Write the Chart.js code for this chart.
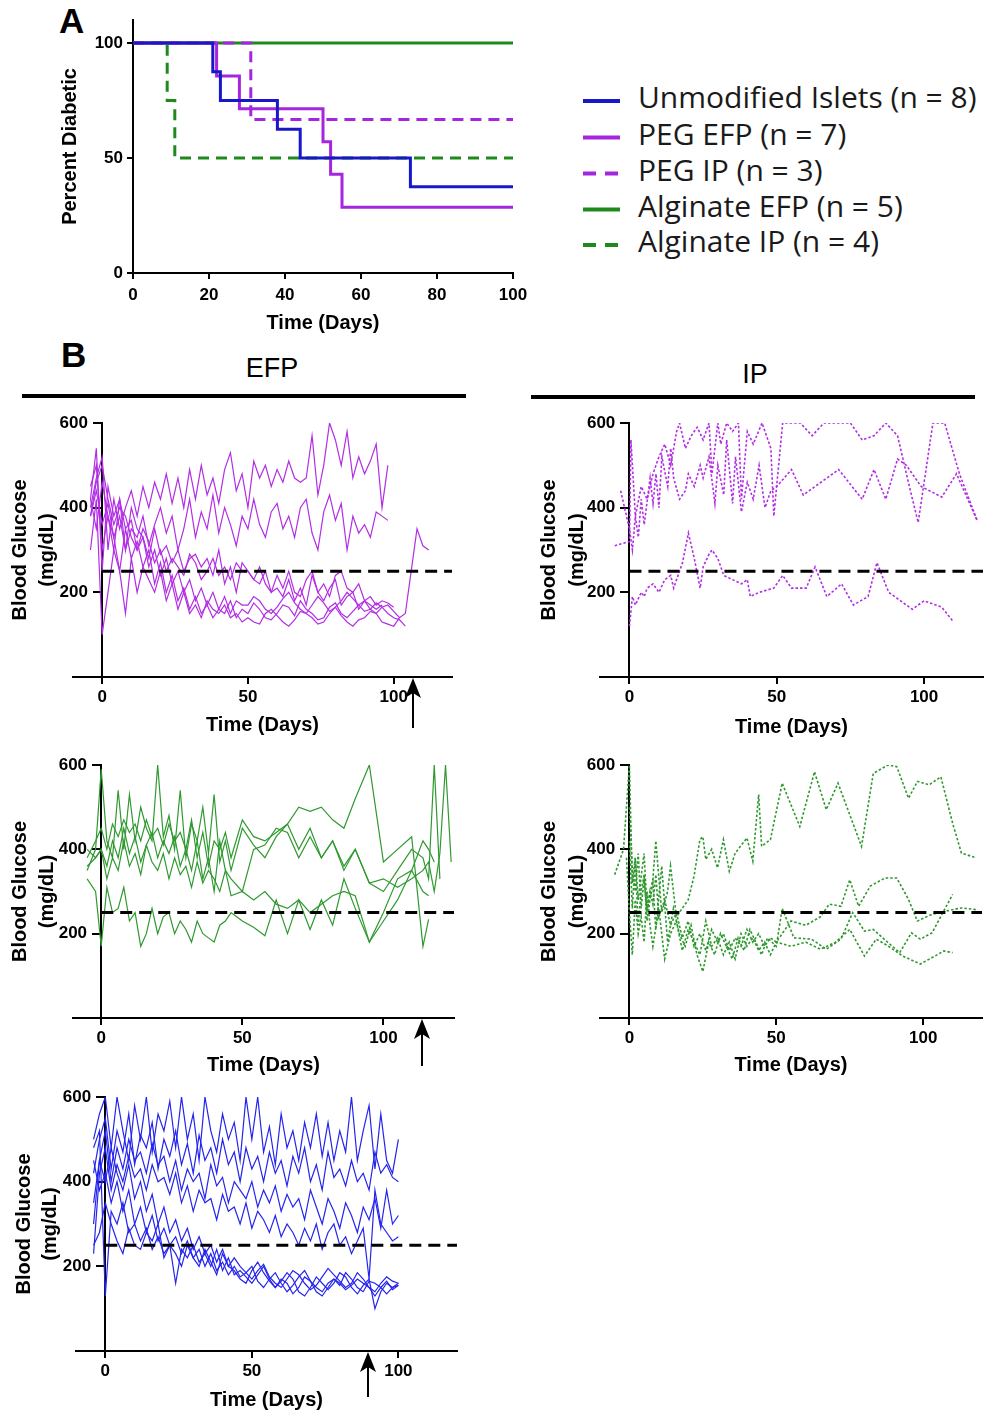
<!DOCTYPE html>
<html><head><meta charset="utf-8">
<script src="https://cdn.jsdelivr.net/npm/chart.js@4.4.1/dist/chart.umd.min.js"></script>
<style>
html,body{margin:0;padding:0;background:#fff;}
body{width:987px;height:1414px;position:relative;overflow:hidden;}
canvas{position:absolute;}
#ann{position:absolute;left:0;top:0;}
</style></head><body>
<svg id="ann" width="987" height="1414" xmlns="http://www.w3.org/2000/svg">
  <g font-family="'Liberation Sans', Arial, sans-serif" fill="#000">
    <text x="59" y="33" font-size="35" font-weight="bold">A</text>
    <text x="61" y="367" font-size="35" font-weight="bold">B</text>
    <text x="272" y="377" font-size="27" text-anchor="middle">EFP</text>
    <text x="755" y="383" font-size="27" text-anchor="middle">IP</text>
  </g>
  <line x1="22" y1="396" x2="466" y2="396" stroke="#000" stroke-width="4"/>
  <line x1="531" y1="397" x2="975" y2="397" stroke="#000" stroke-width="4"/>
  <g id="legend" font-family="'Open Sans', 'Noto Sans', sans-serif" font-size="30" fill="#1a1a1a"></g>
</svg>
<script>
// ---------------- DATA ----------------
// Panel A: Kaplan-Meier (Percent Diabetic vs Time)
const kmUnmodDays  = [0, 21, 23, 38, 44, 73, 100];
const kmUnmodPct   = [100, 87.5, 75, 62.5, 50, 37.5, 37.5];
const kmPegEfpDays = [0, 22, 28, 50, 52, 55, 100];
const kmPegEfpPct  = [100, 85.7, 71.4, 57.1, 42.9, 28.6, 28.6];
const kmPegIpDays  = [0, 31, 100];
const kmPegIpPct   = [100, 66.7, 66.7];
const kmAlgEfpDays = [0, 100];
const kmAlgEfpPct  = [100, 100];
const kmAlgIpDays  = [0, 9, 11, 100];
const kmAlgIpPct   = [100, 75, 50, 50];
const legendLabels = ['Unmodified Islets (n = 8)', 'PEG EFP (n = 7)', 'PEG IP (n = 3)', 'Alginate EFP (n = 5)', 'Alginate IP (n = 4)'];
const kmXTicks = [0, 20, 40, 60, 80, 100];
const kmYTicks = [0, 50, 100];
const bgXTicks = [0, 50, 100];
const bgYTicks = [200, 400, 600];
const THRESHOLD = 250;

// Panel B: PEG EFP (7 recipients)
const pEfpDays = [-4,-2,0,2,4,6,8,10,12,14,16,18,20,22,24,26,28,30,32,34,36,38,40,42,44,46,48,50,52,54,56,58,60,62,64,66,68,70,72,74,76,78,80,82,84,86,88,90,92,94,96,98,100,102,104,106,108,110,112];
const pEfp1 = [400,470,520,300,420,350,400,440,380,450,400,460,420,480,410,470,400,490,420,500,430,470,410,490,530,440,480,400,510,470,500,450,490,460,510,470,460,470,570,430,500,600,560,500,580,470,520,480,510,550,400,500];
const pEfp2 = [380,440,360,410,330,380,300,350,330,380,310,360,400,340,380,300,350,420,330,390,350,430,340,400,360,310,380,350,420,360,330,390,410,350,380,330,400,420,340,300,390,430,370,410,300,380,340,360,330,390,380,370];
const pEfp3 = [450,500,300,380,330,250,350,280,320,260,300,220,270,200,240,180,210,160,190,150,170,140,160,150,180,140,160,150,175,160,140,135,150,170,165,145,180,160,150,135,140,165,175,150,140,155,170,180,160,150,165,170,155,140,150,250,350,310,300];
const pEfp4 = [420,540,250,450,380,420,300,400,350,330,280,350,290,310,270,300,250,280,290,260,280,240,300,220,260,200,270,250,230,220,250,200,210,190,230,180,210,170,240,200,180,210,230,170,190,200,160,180,170,160,170];
const pEfp5 = [300,420,100,200,300,250,150,280,200,260,230,200,250,180,220,160,200,150,170,140,180,160,150,170,140,150,130,140,130,125,150,160,145,130,120,135,155,150,140,125,130,150,165,145,130,120,135,140,155,150,130,125,120,140];
const pEfp6 = [380,460,500,420,360,400,380,330,300,350,320,270,300,250,280,260,240,290,270,230,250,280,240,260,230,270,250,250,230,260,220,200,240,210,250,200,190,230,250,200,220,190,240,250,210,200,220,180,190,170,180,175,165];
const pEfp7 = [420,350,460,380,300,420,350,370,300,330,260,300,240,280,220,250,200,230,180,210,170,200,160,190,150,180,170,170,190,180,160,150,165,185,200,175,160,150,170,190,175,155,165,180,200,185,170,155,160,175,165,150,140,135,120];
const pEfpArrowDay = 106.5;

// Panel B: PEG IP (3 recipients)
const pIp1Days = [-5,0,0.5,2,4,6,8,10,12,14,16,17,19,21,23,25,27,28,30,31,33,35,37,38,40,42,45,48,49,52,58,62,66,75,79,83,87,91,95,98,103,107,112,118];
const pIp1Vals = [310,320,560,380,450,420,480,520,550,500,580,600,540,570,590,560,600,480,600,550,600,580,600,420,580,550,600,540,380,600,600,570,600,600,560,570,600,570,450,365,600,600,480,370];
const pIp2Days = [-3,0,1,2,3,4,5,7,8,9,10,11,13,14,15,17,19,20,22,24,25,27,29,30,32,33,35,36,38,40,42,44,46,48,50,55,59,65,71,79,83,87,91,94,99,106,111,118];
const pIp2Vals = [440,350,300,380,330,420,360,470,410,480,400,520,450,540,470,420,440,480,450,500,470,520,410,500,430,560,410,520,390,460,420,500,400,440,450,490,430,460,490,420,490,420,515,500,450,425,480,370];
const pIp3Days = [0,1,2,4,5,6,8,10,12,14,15,17,18,20,22,24,25,27,28,30,32,35,38,40,41,44,49,52,55,60,63,67,72,76,81,84,88,92,96,100,106,110];
const pIp3Vals = [120,190,170,200,190,210,220,200,230,240,210,250,270,340,280,210,260,290,300,280,240,230,220,230,190,200,210,240,210,210,260,190,220,170,190,270,200,180,160,180,165,130];

// Panel B: Alginate EFP (5 recipients)
const gEfpDays = [-5,-2,0,2,4,6,8,10,12,14,16,18,20,22,24,26,28,30,32,34,36,38,40,42,44,46,50,54,58,62,66,70,74,78,82,86,90,95,100,105,110,114,116,118,120,122,124];
const gEfp1 = [350,400,590,420,380,540,400,530,420,500,450,420,600,430,480,400,540,380,460,420,500,390,530,370,420,350,450,410,380,430,460,400,450,380,420,360,400,320,330,310,330,350,370,300,390,600,370];
const gEfp2 = [380,420,450,400,460,430,470,440,460,420,470,430,450,410,460,420,440,400,470,380,440,360,420,400,440,380,470,430,420,440,460,500,490,500,470,450,520,600,370,400,430,170,234];
const gEfp3 = [400,380,400,360,420,380,450,390,430,370,410,440,380,420,390,430,360,400,350,420,330,380,300,420,350,330,300,400,410,450,440,380,430,380,420,350,400,320,300,350,400,380,330,600,330];
const gEfp4 = [360,380,400,330,380,350,420,360,390,340,410,370,350,390,330,380,340,360,310,370,320,350,330,300,350,290,300,280,300,270,260,280,250,270,290,300,290,180,250,330,350,300,290];
const gEfp5 = [330,300,170,310,250,260,310,230,250,170,200,260,200,240,250,200,230,210,180,230,200,190,180,220,230,250,230,215,195,280,200,280,210,280,220,330,260,180,230,280,350,420,400,370];
const gEfpArrowDay = 113.6;

// Panel B: Alginate IP (4 recipients)
const gIp1Days = [-5,-2,0,1,2,3,5,6,8,9,11,13,14,16,18,20,22,24,25,26,28,30,32,34,36,40,42,44,45,48,52,58,63,67,71,79,83,88,91,95,98,102,106,110,113,118];
const gIp1Vals = [340,400,600,320,380,280,390,260,330,420,250,300,360,240,260,280,336,423,430,376,400,356,423,348,391,427,372,530,407,423,557,454,584,494,557,407,580,600,596,521,561,553,572,462,391,380];
const gIp2Days = [0,1,2,3,4,5,6,7,8,9,10,12,14,16,18,20,22,24,26,28,30,32,34,36,38,40,42,44,46,48,50,55,60,65,68,72,75,78,82,87,91,95,98,103,108,113,118];
const gIp2Vals = [500,350,300,390,260,330,250,300,270,340,240,280,220,250,190,230,170,200,160,210,180,200,160,190,170,210,180,200,170,190,180,230,220,240,270,265,328,265,313,332,332,281,230,246,254,261,257];
const gIp3Days = [0,1,2,3,4,5,6,7,8,9,11,13,15,17,19,21,23,25,27,29,31,33,35,37,39,41,43,45,47,50,52,56,62,67,72,76,80,83,88,92,96,99,103,110];
const gIp3Vals = [420,260,380,220,300,340,230,280,320,210,360,180,260,200,170,220,150,110,180,150,200,170,140,190,160,210,180,150,190,170,260,190,187,163,187,250,206,210,179,155,202,187,202,293];
const gIp4Days = [-1,0,1,2,3,4,5,6,7,8,10,12,14,16,18,20,22,24,26,28,30,32,34,36,38,40,42,44,46,48,50,55,60,65,70,75,80,84,88,93,99,104,107,110];
const gIp4Vals = [380,250,150,280,200,240,180,300,220,170,260,140,200,230,160,210,180,150,230,170,190,150,180,140,200,170,190,160,180,150,180,170,180,163,179,210,147,187,171,147,128,147,159,155];

// Panel B: Unmodified islets EFP (8 recipients)
const bEfpDays = [-4,-2,0,2,4,6,8,10,12,14,16,18,20,22,24,26,28,30,32,34,36,38,40,42,44,46,48,50,52,54,56,58,60,62,64,66,68,70,72,74,76,78,80,82,84,86,88,90,92,94,96,98,100];
const bEfp1 = [500,560,600,480,600,520,450,580,500,600,470,560,520,590,480,600,500,560,450,600,520,470,560,500,540,450,600,500,600,470,530,440,560,480,520,450,540,480,560,460,540,450,520,470,600,450,520,580,430,560,450,420,500];
const bEfp2 = [420,500,550,430,520,470,560,440,510,480,540,430,500,460,520,440,490,420,510,450,480,420,500,440,470,400,480,430,460,400,470,420,450,390,460,420,480,400,440,380,470,410,430,390,450,400,420,380,470,420,440,410,400];
const bEfp3 = [350,450,520,400,480,430,500,450,470,420,490,440,460,400,450,380,430,400,420,360,440,390,410,350,400,380,360,400,340,380,350,390,330,370,340,360,310,380,340,300,360,330,290,350,320,280,340,310,360,290,380,300,320];
const bEfp4 = [230,420,480,380,440,400,460,410,430,380,440,400,410,370,420,350,390,330,380,350,360,310,370,330,340,300,350,290,330,310,280,320,270,300,280,250,290,260,300,240,280,300,250,270,230,260,290,170,380,300,280,260,270];
const bEfp5 = [450,380,420,350,400,330,380,300,340,280,320,260,290,250,270,230,260,220,240,200,230,190,210,180,200,175,185,200,165,150,170,185,160,140,155,175,190,165,150,140,160,170,155,185,170,150,140,165,160,150,135,150,155];
const bEfp6 = [480,520,130,330,300,350,280,300,260,290,240,270,230,250,160,240,220,250,210,230,200,240,190,220,180,190,175,160,180,200,170,150,165,185,170,140,130,150,175,160,145,160,185,175,150,135,155,170,100,140,160,150,160];
const bEfp7 = [300,450,400,480,420,380,440,360,400,330,370,300,340,280,310,260,290,240,270,230,250,210,240,200,220,200,185,170,190,205,175,160,150,170,190,180,160,145,155,175,195,180,165,150,160,185,170,150,140,160,175,165,160];
const bEfp8 = [250,280,350,300,260,230,290,250,240,280,260,300,220,250,230,200,250,220,200,240,210,180,230,200,190,170,160,190,210,185,165,150,170,160,135,150,175,165,140,130,150,170,160,145,155,170,160,150,130,150,165,145,155];
const bEfpArrowDay = 89.8;

// ---------------- STYLE ----------------
const FONT = "'Liberation Sans', Arial, Helvetica, sans-serif";
Chart.defaults.font.family = FONT;
Chart.defaults.color = '#000';
const C_BLUE_KM = '#1818c8', C_PURP_KM = '#a526de', C_GREEN_KM = '#1e8a1e';
const C_BLUE = '#2424ee', C_PURP = '#b12ee4', C_GREEN = '#2f992f';

// legend (SVG)
(function(){
  const g = document.getElementById('legend');
  const ns = 'http://www.w3.org/2000/svg';
  const cols = [C_BLUE_KM, C_PURP_KM, C_PURP_KM, C_GREEN_KM, C_GREEN_KM];
  const dashed = [false, false, true, false, true];
  const rows = [101, 137.5, 173.5, 209.5, 245];
  legendLabels.forEach((t, i) => {
    const l = document.createElementNS(ns, 'line');
    l.setAttribute('x1', 583); l.setAttribute('x2', 620);
    l.setAttribute('y1', rows[i]); l.setAttribute('y2', rows[i]);
    l.setAttribute('stroke', cols[i]); l.setAttribute('stroke-width', 4);
    if (dashed[i]) l.setAttribute('stroke-dasharray', '13 9');
    g.appendChild(l);
    const tx = document.createElementNS(ns, 'text');
    tx.setAttribute('x', 638); tx.setAttribute('y', rows[i] + 7);
    tx.textContent = t;
    g.appendChild(tx);
  });
})();

function makeCanvas(id, r) {
  const c = document.createElement('canvas');
  c.id = id; c.width = r.w; c.height = r.h;
  c.style.left = r.x + 'px'; c.style.top = r.y + 'px';
  c.style.width = r.w + 'px'; c.style.height = r.h + 'px';
  document.body.appendChild(c);
  return c;
}

const yTitlePlugin = {
  id: 'yTitle',
  afterDraw(chart, args, opts) {
    if (!opts || !opts.lines) return;
    const ctx = chart.ctx, a = chart.chartArea;
    ctx.save();
    ctx.font = 'bold 20px ' + FONT;
    ctx.fillStyle = '#000';
    ctx.textAlign = 'center';
    ctx.textBaseline = 'middle';
    opts.lines.forEach((t, i) => {
      ctx.save();
      ctx.translate(opts.x[i], (a.top + a.bottom) / 2);
      ctx.rotate(-Math.PI / 2);
      ctx.fillText(t, 0, 0);
      ctx.restore();
    });
    ctx.restore();
  }
};
const arrowPlugin = {
  id: 'arrowMark',
  afterDraw(chart, args, opts) {
    if (!opts || opts.day == null) return;
    const ctx = chart.ctx;
    const x = Math.round(chart.scales.x.getPixelForValue(opts.day));
    const y0 = chart.chartArea.bottom + 1;
    ctx.save();
    ctx.strokeStyle = '#000'; ctx.fillStyle = '#000'; ctx.lineWidth = 2;
    ctx.beginPath(); ctx.moveTo(x, y0 + 12); ctx.lineTo(x, y0 + opts.len); ctx.stroke();
    ctx.beginPath();
    ctx.moveTo(x, y0); ctx.lineTo(x + 8, y0 + 20); ctx.lineTo(x, y0 + 15); ctx.lineTo(x - 8, y0 + 20);
    ctx.closePath(); ctx.fill();
    ctx.restore();
  }
};

function axisCommon(tl, pad) {
  return {
    ticks: { color: '#000', font: { size: 17, weight: 'bold' }, padding: pad, autoSkip: false, maxRotation: 0 },
    grid: { display: true, drawOnChartArea: false, drawTicks: true, tickLength: tl, color: '#000', lineWidth: 2 },
    border: { display: true, color: '#000', width: 2 }
  };
}

// ---------------- PANEL A ----------------
function kmSet(days, pct, color, dashed) {
  return { data: days.map((d, i) => ({ x: d, y: pct[i] })), borderColor: color, borderWidth: 3,
    borderDash: dashed ? [11, 7] : [], stepped: true, pointRadius: 0, fill: false };
}
(function(){
  const r = { x: 0, y: 0, w: 560, h: 340 };
  const c = makeCanvas('km', r);
  const xA = axisCommon(6, 6), yA = axisCommon(6, 4);
  new Chart(c, {
    type: 'line',
    data: { datasets: [
      kmSet(kmUnmodDays, kmUnmodPct, C_BLUE_KM, false),
      kmSet(kmPegEfpDays, kmPegEfpPct, C_PURP_KM, false),
      kmSet(kmPegIpDays, kmPegIpPct, C_PURP_KM, true),
      kmSet(kmAlgEfpDays, kmAlgEfpPct, C_GREEN_KM, false),
      kmSet(kmAlgIpDays, kmAlgIpPct, C_GREEN_KM, true)
    ]},
    options: {
      responsive: false, animation: false, devicePixelRatio: 1,
      layout: { padding: { left: 0, right: 47, top: 20, bottom: 5 } },
      plugins: { legend: { display: false }, tooltip: { enabled: false } },
      scales: {
        x: Object.assign(xA, { type: 'linear', min: 0, max: 100,
          afterFit: s => { s.height = 62; },
          afterBuildTicks: s => { s.ticks = kmXTicks.map(v => ({ value: v })); },
          title: { display: true, text: 'Time (Days)', color: '#000', font: { size: 20, weight: 'bold' }, padding: { top: 0, bottom: 0 } } }),
        y: Object.assign(yA, { type: 'linear', min: 0, max: 110,
          afterFit: s => { s.width = 133; },
          afterBuildTicks: s => { s.ticks = kmYTicks.map(v => ({ value: v })); },
          title: { display: true, text: 'Percent Diabetic', color: '#000', font: { size: 20, weight: 'bold' }, padding: { top: 58, bottom: 0 } } })
      }
    }
  });
})();

// ---------------- PANEL B ----------------
function bgSet(days, vals, color, dotted) {
  return { data: vals.map((v, i) => ({ x: days[i], y: v })), borderColor: color,
    borderWidth: dotted ? 1.6 : 1.2, borderDash: dotted ? [2.5, 2] : [], pointRadius: 0, tension: 0, fill: false };
}
function threshSet(xMax) {
  return { data: [{ x: 0, y: THRESHOLD }, { x: xMax, y: THRESHOLD }], borderColor: '#000', borderWidth: 3,
    borderDash: [12, 7], pointRadius: 0, fill: false };
}
function glucoseChart(id, r, area, xMin, xMax, xH, sets, titleX, arrowDay, arrowLen) {
  const c = makeCanvas(id, r);
  const pad = { left: area.L - r.x, right: r.x + r.w - area.R, top: area.T - r.y, bottom: r.y + r.h - area.B - xH };
  const xA = axisCommon(7, 3), yA = axisCommon(8, 4);
  // y axis sits at day 0; keep its labels clear of the axis line
  yA.ticks.callback = v => v + '   ';
  new Chart(c, {
    type: 'line',
    data: { datasets: [threshSet(xMax)].concat(sets) },
    plugins: [yTitlePlugin, arrowPlugin],
    options: {
      responsive: false, animation: false, devicePixelRatio: 1,
      layout: { padding: pad },
      plugins: { legend: { display: false }, tooltip: { enabled: false },
        yTitle: { lines: ['Blood Glucose', '(mg/dL)'], x: titleX.map(v => v - r.x) },
        arrowMark: { day: arrowDay, len: arrowLen } },
      scales: {
        x: Object.assign(xA, { type: 'linear', min: xMin, max: xMax, position: 'bottom',
          afterFit: s => { s.height = xH; },
          afterBuildTicks: s => { s.ticks = bgXTicks.map(v => ({ value: v })); },
          title: { display: true, text: 'Time (Days)', color: '#000', font: { size: 20, weight: 'bold' }, padding: { top: 0, bottom: 0 } } }),
        y: Object.assign(yA, { type: 'linear', min: 0, max: 600, position: { x: 0 },
          afterBuildTicks: s => { s.ticks = bgYTicks.map(v => ({ value: v })); } })
      }
    }
  });
}

glucoseChart('pefp', { x: 0, y: 400, w: 480, h: 340 }, { L: 73, R: 452, T: 423, B: 677 }, -10, 120, 60, [
  bgSet(pEfpDays, pEfp1, C_PURP), bgSet(pEfpDays, pEfp2, C_PURP), bgSet(pEfpDays, pEfp3, C_PURP),
  bgSet(pEfpDays, pEfp4, C_PURP), bgSet(pEfpDays, pEfp5, C_PURP), bgSet(pEfpDays, pEfp6, C_PURP),
  bgSet(pEfpDays, pEfp7, C_PURP)], [20, 47], pEfpArrowDay, 50);

glucoseChart('pip', { x: 520, y: 400, w: 467, h: 340 }, { L: 600, R: 983, T: 423, B: 677 }, -10, 120, 62, [
  bgSet(pIp1Days, pIp1Vals, C_PURP, true), bgSet(pIp2Days, pIp2Vals, C_PURP, true),
  bgSet(pIp3Days, pIp3Vals, C_PURP, true)], [549, 577], null, 0);

glucoseChart('gefp', { x: 0, y: 745, w: 480, h: 340 }, { L: 73, R: 454, T: 765, B: 1018 }, -10, 125, 59, [
  bgSet(gEfpDays, gEfp1, C_GREEN), bgSet(gEfpDays, gEfp2, C_GREEN), bgSet(gEfpDays, gEfp3, C_GREEN),
  bgSet(gEfpDays, gEfp4, C_GREEN), bgSet(gEfpDays, gEfp5, C_GREEN)], [20, 47], gEfpArrowDay, 47);

glucoseChart('gip', { x: 520, y: 745, w: 467, h: 340 }, { L: 600, R: 982, T: 765, B: 1018 }, -10, 120, 59, [
  bgSet(gIp1Days, gIp1Vals, C_GREEN, true), bgSet(gIp2Days, gIp2Vals, C_GREEN, true),
  bgSet(gIp3Days, gIp3Vals, C_GREEN, true), bgSet(gIp4Days, gIp4Vals, C_GREEN, true)], [549, 577], null, 0);

glucoseChart('befp', { x: 0, y: 1080, w: 480, h: 334 }, { L: 76, R: 457, T: 1097, B: 1351 }, -10, 120, 61, [
  bgSet(bEfpDays, bEfp1, C_BLUE), bgSet(bEfpDays, bEfp2, C_BLUE), bgSet(bEfpDays, bEfp3, C_BLUE),
  bgSet(bEfpDays, bEfp4, C_BLUE), bgSet(bEfpDays, bEfp5, C_BLUE), bgSet(bEfpDays, bEfp6, C_BLUE),
  bgSet(bEfpDays, bEfp7, C_BLUE), bgSet(bEfpDays, bEfp8, C_BLUE)], [24, 50], bEfpArrowDay, 45);
</script>
</body></html>
